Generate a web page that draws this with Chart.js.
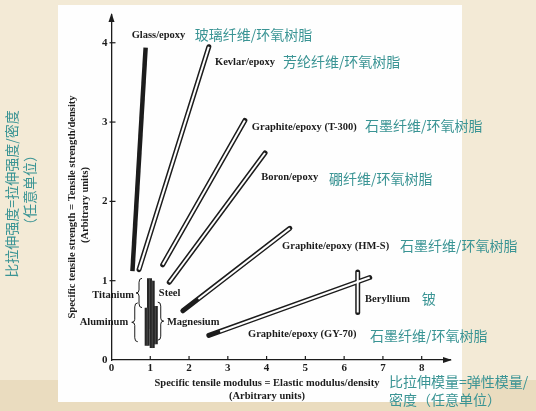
<!DOCTYPE html>
<html>
<head>
<meta charset="utf-8">
<script src="https://cdn.jsdelivr.net/npm/chart.js@4.4.0/dist/chart.umd.min.js"></script>
<style>
  html, body { margin: 0; padding: 0; background: #f3ead6; }
</style>
</head>
<body>
<canvas id="myChart1" width="536" height="411"></canvas>
<script>
const ctx = document.getElementById("myChart1").getContext("2d");

// data (arbitrary units)
const materials = [
  "Glass/epoxy",
  "Kevlar/epoxy",
  "Graphite/epoxy (T-300)",
  "Boron/epoxy",
  "Graphite/epoxy (HM-S)",
  "Graphite/epoxy (GY-70)",
  "Beryllium",
  "Titanium",
  "Steel",
  "Aluminum",
  "Magnesium",
];
const chineseNames = [
  "玻璃纤维/环氧树脂",
  "芳纶纤维/环氧树脂",
  "石墨纤维/环氧树脂",
  "硼纤维/环氧树脂",
  "石墨纤维/环氧树脂",
  "石墨纤维/环氧树脂",
  "铍",
  "",
  "",
  "",
  "",
];
const modulusFrom = [0.54, 0.71, 1.32, 1.49, 1.84, 2.51, 6.35, 0.98, 1.05, 0.92, 1.13];
const strengthFrom = [1.12, 1.14, 1.2, 0.98, 0.62, 0.31, 0.6, 0.4, 0.15, 0.18, 0.2];
const modulusTo = [0.88, 2.51, 3.44, 3.96, 4.6, 6.66, 6.35, 0.98, 1.05, 0.92, 1.13];
const strengthTo = [3.94, 3.95, 3.02, 2.61, 1.66, 1.04, 1.11, 1.03, 1.0, 0.66, 0.68];
// where the dark (filled) tip of a hollow band ends
const darkTipModulus = [null, null, null, null, 2.24, 2.8, null, null, null, null, null];
const darkTipStrength = [null, null, null, null, 0.77, 0.36, null, null, null, null, null];

const xTicks = [0, 1, 2, 3, 4, 5, 6, 7, 8];
const yTicks = [0, 1, 2, 3, 4];

// how each band is drawn
const bandKind = {
  "Glass/epoxy": "solid",
  "Beryllium": "hollow",
  "Titanium": "bar",
  "Steel": "bar",
  "Aluminum": "bar",
  "Magnesium": "bar",
};

// label anchors in data units (x = left edge unless right aligned)
const labelSpots = [
  { en: [0.52, 4.09], zh: [2.15, 4.1] },
  { en: [2.67, 3.76], zh: [4.42, 3.76] },
  { en: [3.62, 2.94], zh: [6.54, 2.95] },
  { en: [3.86, 2.3], zh: [5.61, 2.28] },
  { en: [4.4, 1.43], zh: [7.44, 1.44] },
  { en: [3.52, 0.32], zh: [6.67, 0.31] },
  { en: [6.54, 0.76], zh: [8.0, 0.77] },
  { en: [0.58, 0.82], right: true },
  { en: [1.22, 0.845] },
  { en: [0.43, 0.47], right: true },
  { en: [1.43, 0.47] },
];
const braces = [
  { x: 0.71, top: 1.03, bottom: 0.66, open: "left" },
  { x: 0.6, top: 0.72, bottom: 0.23, open: "left" },
  { x: 1.27, top: 0.73, bottom: 0.25, open: "right" },
];

const INK = "#1c1c1c";
const TEAL = "#3a9494";
const EN_FONT = 'bold 10.5px "Liberation Serif"';
const ZH_FONT = '14px "Noto Sans CJK SC"';

const datasets = [];
materials.forEach((name, i) => {
  const kind = bandKind[name] || "hollow";
  const a = { x: modulusFrom[i], y: strengthFrom[i] };
  const b = { x: modulusTo[i], y: strengthTo[i] };
  datasets.push({
    label: name,
    data: [a, b],
    borderColor: kind === "bar" ? "#262626" : INK,
    borderWidth: kind === "solid" ? 4.5 : kind === "bar" ? 5 : 5,
    borderCapStyle: kind === "hollow" ? "round" : "butt",
    order: 2,
  });
  if (kind === "hollow" || kind === "bar") {
    const start = darkTipModulus[i] != null ? { x: darkTipModulus[i], y: darkTipStrength[i] } : a;
    datasets.push({
      label: name + " core",
      data: [start, b],
      borderColor: kind === "bar" ? "#555555" : "#ffffff",
      borderWidth: kind === "bar" ? 0.8 : 2,
      borderCapStyle: "butt",
      order: 1,
    });
  }
});

const paperPlugin = {
  id: "paper",
  beforeDraw(chart) {
    const c = chart.ctx;
    c.save();
    c.fillStyle = "#f3ead6";
    c.fillRect(0, 0, chart.width, chart.height);
    c.fillStyle = "#eadcbf";
    c.fillRect(0, 380, chart.width, chart.height - 380);
    c.fillStyle = "#fefefe";
    c.fillRect(58, 5, 404, 397);
    c.restore();
  },
};

const notesPlugin = {
  id: "notes",
  afterDraw(chart) {
    const c = chart.ctx;
    const xs = chart.scales.x;
    const ys = chart.scales.y;
    const area = chart.chartArea;
    c.save();
    c.strokeStyle = INK;
    c.fillStyle = INK;
    c.lineWidth = 1.2;

    // tick marks inside the axes
    xTicks.slice(1).forEach((v) => {
      const px = xs.getPixelForValue(v);
      c.beginPath();
      c.moveTo(px, area.bottom);
      c.lineTo(px, area.bottom - 4);
      c.stroke();
    });
    yTicks.slice(1).forEach((v) => {
      const py = ys.getPixelForValue(v);
      c.beginPath();
      c.moveTo(area.left - 2, py);
      c.lineTo(area.left + 4, py);
      c.stroke();
    });

    // arrow heads
    c.beginPath();
    c.moveTo(area.right + 2, area.bottom);
    c.lineTo(area.right - 7, area.bottom - 3);
    c.lineTo(area.right - 7, area.bottom + 3);
    c.closePath();
    c.fill();
    c.beginPath();
    c.moveTo(area.left, area.top - 2);
    c.lineTo(area.left - 3, area.top + 7);
    c.lineTo(area.left + 3, area.top + 7);
    c.closePath();
    c.fill();

    // braces
    c.lineWidth = 1;
    braces.forEach((br) => {
      const x = xs.getPixelForValue(br.x);
      const y1 = ys.getPixelForValue(br.top);
      const y2 = ys.getPixelForValue(br.bottom);
      const m = (y1 + y2) / 2;
      const d = br.open === "left" ? 3 : -3;
      c.beginPath();
      c.moveTo(x + d, y1);
      c.quadraticCurveTo(x, y1, x, y1 + 4);
      c.lineTo(x, m - 3);
      c.quadraticCurveTo(x, m, x - d, m);
      c.quadraticCurveTo(x, m, x, m + 3);
      c.lineTo(x, y2 - 4);
      c.quadraticCurveTo(x, y2, x + d, y2);
      c.stroke();
    });

    // band labels
    c.textBaseline = "middle";
    materials.forEach((name, i) => {
      const spot = labelSpots[i];
      c.font = EN_FONT;
      c.fillStyle = INK;
      c.textAlign = spot.right ? "right" : "left";
      c.fillText(name, xs.getPixelForValue(spot.en[0]), ys.getPixelForValue(spot.en[1]));
      if (spot.zh && chineseNames[i]) {
        c.font = ZH_FONT;
        c.fillStyle = TEAL;
        c.textAlign = "left";
        c.fillText(chineseNames[i], xs.getPixelForValue(spot.zh[0]), ys.getPixelForValue(spot.zh[1]));
      }
    });

    // axis titles
    c.fillStyle = INK;
    c.font = EN_FONT;
    c.textAlign = "center";
    c.fillText("Specific tensile modulus = Elastic modulus/density", 267, 383);
    c.fillText("(Arbitrary units)", 267, 396);
    c.save();
    c.translate(72, 207);
    c.rotate(-Math.PI / 2);
    c.fillText("Specific tensile strength = Tensile strength/density", 0, 0);
    c.restore();
    c.save();
    c.translate(85, 205);
    c.rotate(-Math.PI / 2);
    c.fillText("(Arbitrary units)", 0, 0);
    c.restore();

    // chinese axis notes
    c.fillStyle = TEAL;
    c.font = ZH_FONT;
    c.textAlign = "left";
    c.fillText("比拉伸模量=弹性模量/", 389, 382);
    c.fillText("密度（任意单位）", 389, 400);
    c.textAlign = "center";
    c.save();
    c.translate(12, 194);
    c.rotate(-Math.PI / 2);
    c.fillText("比拉伸强度=拉伸强度/密度", 0, 0);
    c.restore();
    c.save();
    c.translate(30, 190);
    c.rotate(-Math.PI / 2);
    c.fillText("（任意单位）", 0, 0);
    c.restore();

    c.restore();
  },
};

const tickFont = { family: "Liberation Serif", weight: "bold", size: 11 };

const config = {
  type: "line",
  data: { datasets: datasets },
  options: {
    responsive: false,
    animation: false,
    events: [],
    layout: { padding: { left: 0, top: 15, right: 86, bottom: 0 } },
    elements: { point: { radius: 0 }, line: { tension: 0 } },
    plugins: { legend: { display: false }, tooltip: { enabled: false } },
    scales: {
      x: {
        type: "linear",
        min: 0,
        max: 8.73,
        grid: { display: false, drawTicks: false },
        border: { display: true, color: INK, width: 1.3 },
        ticks: { stepSize: 1, includeBounds: false, color: INK, font: tickFont, padding: 2 },
        afterFit: (s) => { s.height = 51; },
      },
      y: {
        type: "linear",
        min: 0,
        max: 4.35,
        grid: { display: false, drawTicks: false },
        border: { display: true, color: INK, width: 1.3 },
        ticks: { stepSize: 1, includeBounds: false, color: INK, font: tickFont, padding: 4 },
        afterFit: (s) => { s.width = 111.5; },
      },
    },
  },
  plugins: [paperPlugin, notesPlugin],
};

const myChart1 = new Chart(ctx, config);
</script>
</body>
</html>
